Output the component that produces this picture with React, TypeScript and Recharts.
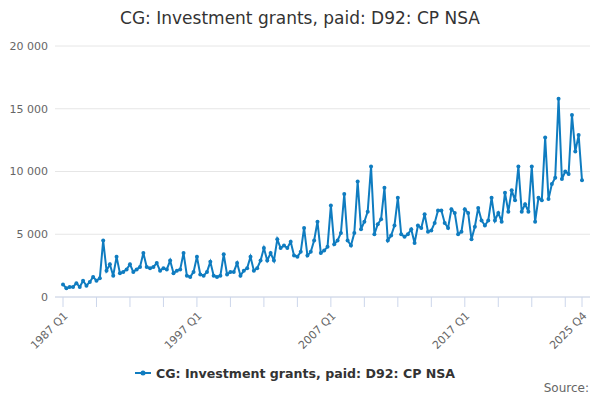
import { LineChart, Line, XAxis, YAxis, CartesianGrid, Legend } from "recharts";

const years: number[] = [];
for (let y = 1987; y <= 2025; y++) years.push(y);
const quarterNames = ["Q1", "Q2", "Q3", "Q4"];
const periods: string[] = years.flatMap((y) => quarterNames.map((q) => `${y} ${q}`));

// £ million, quarterly, 1987 Q1 .. 2025 Q4
const grants: number[] = [
  1000, 700, 800, 800,
  1100, 800, 1300, 900,
  1200, 1600, 1300, 1500,
  4500, 2100, 2600, 1700,
  3200, 1900, 2000, 2200,
  2600, 2000, 2200, 2400,
  3500, 2400, 2300, 2400,
  2700, 2100, 2300, 2200,
  2900, 1900, 2100, 2200,
  3500, 1700, 1600, 2000,
  3200, 1800, 1700, 2000,
  2800, 1700, 1600, 1700,
  3400, 1800, 2000, 2000,
  2700, 1700, 2100, 2300,
  3200, 2100, 2300, 2900,
  3900, 2900, 3500, 2900,
  4600, 3900, 4100, 3900,
  4400, 3300, 3200, 3600,
  5500, 3300, 3600, 4500,
  6000, 3500, 3700, 4000,
  7300, 4200, 4500, 5100,
  8200, 4500, 4100, 5100,
  9200, 5400, 6000, 6800,
  10400, 5000, 5800, 6200,
  8700, 4500, 4900, 5700,
  7900, 5000, 4800, 5000,
  5400, 4300, 5700, 5500,
  6600, 5200, 5300, 5900,
  6900, 6900, 5900, 5500,
  7000, 6700, 5000, 5200,
  7000, 6700, 4600, 5600,
  7100, 6100, 5700, 6100,
  7900, 6100, 6700, 6000,
  8300, 6800, 8500, 7700,
  10400, 6800, 7400, 6800,
  10400, 6000, 7900, 7700,
  12700, 7800, 9000, 9500,
  15800, 9400, 10000, 9800,
  14500, 11600, 12900, 9300,
];

const yTicks = [0, 5000, 10000, 15000, 20000];
const labelledPeriods = ["1987 Q1", "1997 Q1", "2007 Q1", "2017 Q1", "2025 Q4"];
const tickPeriods = periods.filter((_, i) => i % 10 === 0).concat(periods[periods.length - 1]);

const seriesName = "CG: Investment grants, paid: D92: CP NSA";
const lineColor = "#0f7cc0";
const font = "'DejaVu Sans', Verdana, sans-serif";

const data = periods.map((period, i) => ({ period, value: grants[i] }));

const fmtThousands = (v: number) => v.toString().replace(/\B(?=(\d{3})+(?!\d))/g, " ");

function LegendContent() {
  return (
    <div
      style={{
        height: 20,
        display: "flex",
        alignItems: "center",
        justifyContent: "center",
        fontFamily: font,
        fontSize: 12.6,
        fontWeight: "bold",
        color: "#333",
      }}
    >
      <svg width={16} height={12} style={{ marginRight: 5 }}>
        <line x1={0} y1={6} x2={16} y2={6} stroke={lineColor} strokeWidth={2} />
        <circle cx={8} cy={6} r={2.5} fill={lineColor} />
      </svg>
      {seriesName}
    </div>
  );
}

export default function App() {
  return (
    <div style={{ position: "absolute", left: 0, top: 0, width: 600, height: 400, background: "#fff", fontFamily: font }}>
      <div
        style={{
          position: "absolute",
          top: 8,
          left: 0,
          width: 600,
          textAlign: "center",
          fontSize: 17,
          color: "#333",
        }}
      >
        {seriesName}
      </div>
      <LineChart width={600} height={400} data={data} margin={{ top: 46, right: 10, left: 0, bottom: 17 }}>
        <CartesianGrid stroke="#e6e6e6" vertical={false} />
        <XAxis
          dataKey="period"
          ticks={tickPeriods}
          interval={0}
          padding={{ left: 8, right: 8 }}
          height={66}
          tickSize={10}
          tickMargin={4}
          stroke="#ccd6eb"
          tick={{ fill: "#666", fontSize: 11, fontFamily: font }}
          angle={-45}
          textAnchor="end"
          tickFormatter={(p: string) => (labelledPeriods.includes(p) ? p : "")}
        />
        <YAxis
          width={55}
          domain={[0, 20000]}
          ticks={yTicks}
          axisLine={false}
          tickLine={false}
          tickMargin={1}
          tick={{ fill: "#666", fontSize: 11, fontFamily: font }}
          tickFormatter={fmtThousands}
        />
        <Legend verticalAlign="bottom" content={LegendContent} />
        <Line
          type="linear"
          dataKey="value"
          name={seriesName}
          stroke={lineColor}
          strokeWidth={2}
          dot={{ r: 2, fill: lineColor, stroke: lineColor, strokeWidth: 0 }}
          isAnimationActive={false}
        />
      </LineChart>
      <div style={{ position: "absolute", right: 11, top: 381, fontSize: 12, color: "#666" }}>Source:</div>
    </div>
  );
}
